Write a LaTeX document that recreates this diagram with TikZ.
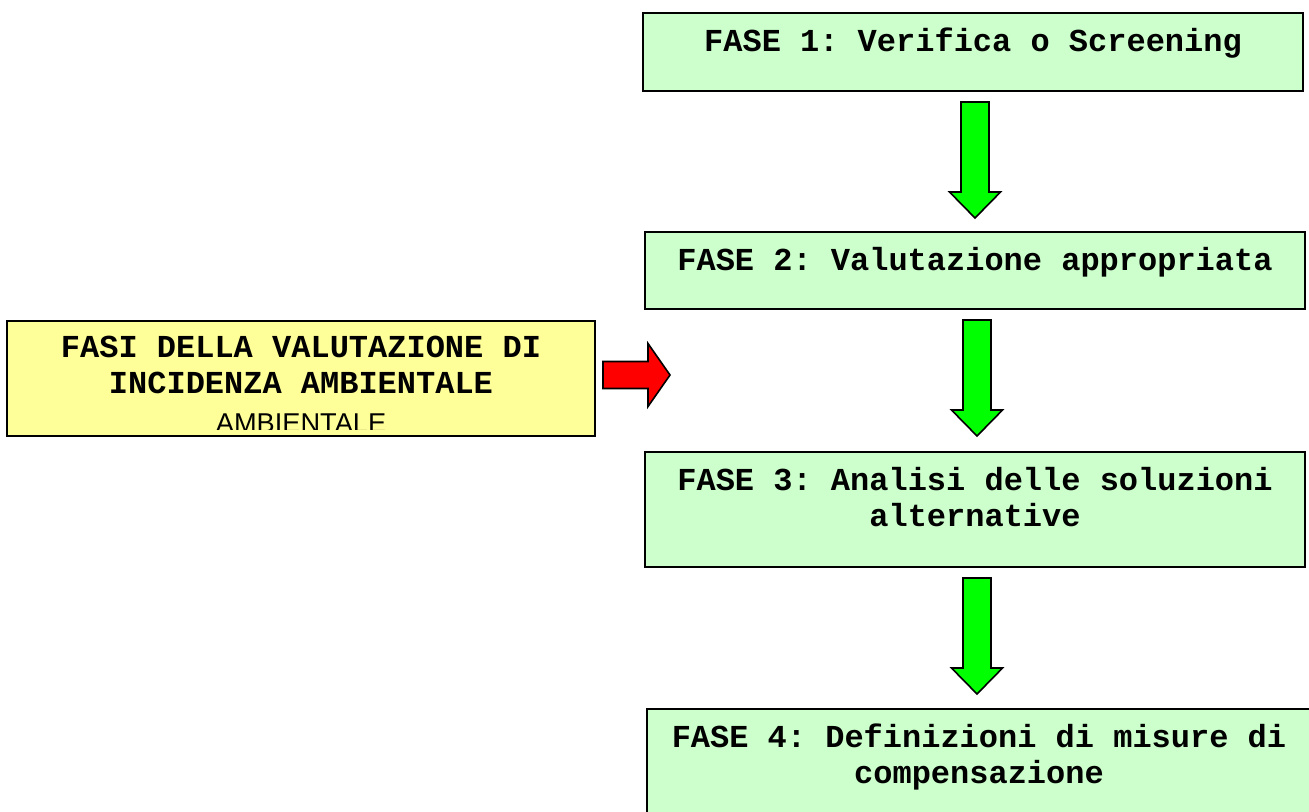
\documentclass[tikz,border=0pt]{standalone}
\usepackage{fontspec}
\newfontfamily\monofnt{Liberation Mono}
\newfontfamily\arialfnt{Liberation Sans}
\usetikzlibrary{positioning,calc}
\definecolor{fasefill}{RGB}{204,255,204}
\definecolor{fasibg}{RGB}{255,255,153}
\definecolor{verde}{RGB}{0,255,0}
\definecolor{rosso}{RGB}{255,0,0}

% fixed-width word spaces for the monospaced labels
\newcommand{\spaziofisso}{\spaceskip=9.6pt\relax\xspaceskip=9.6pt\relax}

\tikzset{
  % block arrows, drawn as closed outlines
  pics/giu/.style={code={
    \draw[draw=black, line width=0.8pt, fill=verde]
      (-14,0) -- (-14,90) -- (-25.5,90) -- (0,116) -- (25.5,90) -- (14,90) -- (14,0) -- cycle;}},
  pics/destra/.style={code={
    \draw[draw=black, line width=0.8pt, fill=rosso]
      (0,-13.5) -- (45,-13.5) -- (45,-31.5) -- (67,0) -- (45,31.5) -- (45,13.5) -- (0,13.5) -- cycle;}}
}

\begin{document}
\begin{tikzpicture}[
  x=0.5pt, y=-0.5pt,
  font=\monofnt\bfseries\fontsize{16}{18}\selectfont,
  fase/.style={rectangle, draw=black, line width=1pt, fill=fasefill, anchor=north,
    inner xsep=0pt, inner ysep=0pt, text width=330pt, align=center, text height=19pt,
    execute at begin node=\spaziofisso},
  fasi/.style={rectangle, draw=black, line width=1pt, fill=fasibg, anchor=north,
    inner xsep=0pt, inner ysep=0pt, text width=294pt, align=center, text height=18pt, text depth=39.5pt,
    execute at begin node=\spaziofisso}
]
\path[use as bounding box, clip] (0,0) rectangle (1309,811);

% Phases, top to bottom
\node[fase, text depth=20pt] (fase1) at (973,12) {FASE 1: Verifica o Screening};
\node[fase, text depth=19.5pt, below=69.5pt of fase1, xshift=1pt] (fase2) {FASE 2: Valutazione appropriata};
\node[fase, text depth=38.5pt, below=70.5pt of fase2] (fase3) {FASE 3: Analisi delle soluzioni\\alternative};
\node[fase, text depth=50pt, text width=332pt, below=70pt of fase3, xshift=2pt] (fase4) {FASE 4: Definizioni di misure di\\compensazione};

% Arrows between phases
\foreach \a/\b in {fase1/fase2, fase2/fase3, fase3/fase4}
  \path ($(\a.south)+(2,10)$) pic {giu};

% Title box on the left
\node[fasi] (fasi) at (301,320) {FASI DELLA VALUTAZIONE DI\\INCIDENZA AMBIENTALE};
\begin{scope}
  \clip (fasi.north west) rectangle ([yshift=4pt]fasi.south east);
  \node[font=\arialfnt\fontsize{13.6}{16}\selectfont, anchor=base, inner sep=0pt]
    (fasi_extra) at ([yshift=2.25pt]fasi.south) {AMBIENTALE};
\end{scope}

\path ($(fasi.east)+(7,-3.5)$) pic {destra};
\end{tikzpicture}
\end{document}
